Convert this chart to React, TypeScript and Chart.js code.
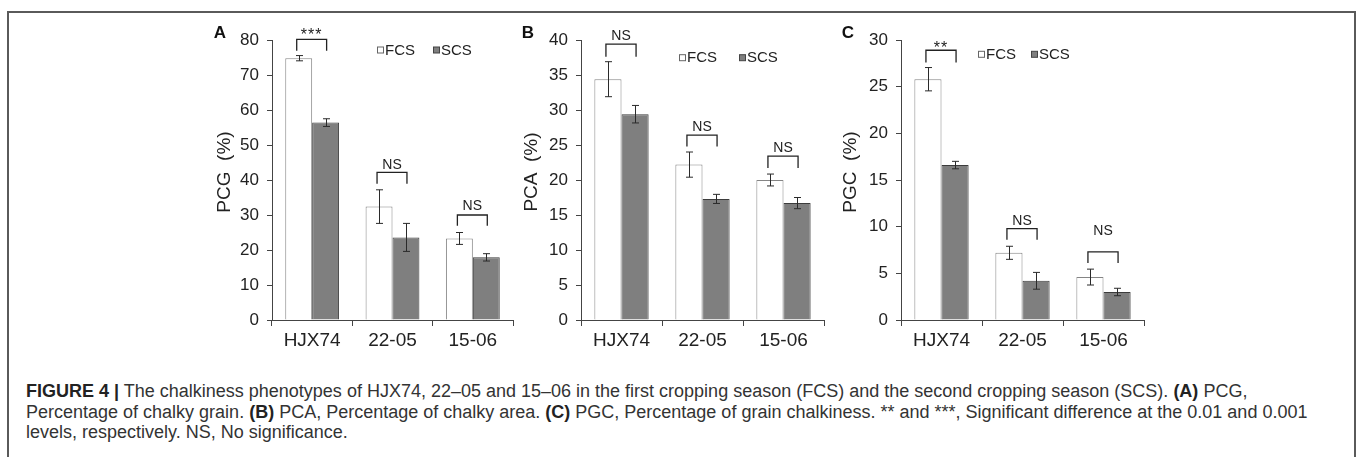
import React, { useEffect, useRef } from "react";
import { Chart, registerables } from "chart.js";
Chart.register(...registerables);

const FONT = "'Liberation Sans', Arial, Helvetica, sans-serif";

const categories = ["HJX74", "22-05", "15-06"];
const seriesNames = ["FCS", "SCS"];

// Panel A – PCG
const pcgFCS = [74.8, 32.4, 23.3];
const pcgFCSErr = [0.75, 4.8, 1.7];
const pcgSCS = [56.4, 23.6, 17.9];
const pcgSCSErr = [1.1, 4.0, 1.05];
const pcgSig = ["***", "NS", "NS"];
const pcgBracketTop = [80.2, 42.2, 30.0];
const pcgBracketLeg = [76.9, 38.9, 26.9];
const pcgSigY = [82.3, 44.3, 32.6];
const pcgAxis = [0, 80, 10];

// Panel B – PCA
const pcaFCS = [34.4, 22.2, 20.0];
const pcaFCSErr = [2.5, 1.8, 0.85];
const pcaSCS = [29.4, 17.3, 16.7];
const pcaSCSErr = [1.25, 0.65, 0.8];
const pcaSig = ["NS", "NS", "NS"];
const pcaBracketTop = [39.4, 26.4, 23.4];
const pcaBracketLeg = [37.6, 24.8, 21.7];
const pcaSigY = [40.5, 27.5, 24.5];
const pcaAxis = [0, 40, 5];

// Panel C – PGC
const pgcFCS = [25.8, 7.2, 4.6];
const pgcFCSErr = [1.25, 0.7, 0.85];
const pgcSCS = [16.6, 4.2, 3.0];
const pgcSCSErr = [0.4, 0.9, 0.4];
const pgcSig = ["**", "NS", "NS"];
const pgcBracketTop = [28.9, 9.8, 7.3];
const pgcBracketLeg = [27.6, 8.6, 6.1];
const pgcSigY = [29.5, 10.6, 9.5];
const pgcAxis = [0, 30, 5];

type Panel = {
  letter: string;
  title: string;
  fcs: number[]; fcsErr: number[];
  scs: number[]; scsErr: number[];
  sig: string[]; bTop: number[]; bLeg: number[]; sigY: number[];
  axis: number[];
  left: number; width: number; yw: number; padRight: number;
  letterX: number; titleX: number;
  legX: number; legY: number; legGap: number;
};

const panels: Panel[] = [
  {
    letter: "A", title: "PCG  (%)",
    fcs: pcgFCS, fcsErr: pcgFCSErr, scs: pcgSCS, scsErr: pcgSCSErr,
    sig: pcgSig, bTop: pcgBracketTop, bLeg: pcgBracketLeg, sigY: pcgSigY, axis: pcgAxis,
    left: 200, width: 320, yw: 72, padRight: 7,
    letterX: 20, titleX: 25, legX: 105, legY: 10, legGap: 56,
  },
  {
    letter: "B", title: "PCA  (%)",
    fcs: pcaFCS, fcsErr: pcaFCSErr, scs: pcaSCS, scsErr: pcaSCSErr,
    sig: pcaSig, bTop: pcaBracketTop, bLeg: pcaBracketLeg, sigY: pcaSigY, axis: pcaAxis,
    left: 505, width: 325, yw: 76, padRight: 6,
    letterX: 23, titleX: 27, legX: 98, legY: 17.7, legGap: 60,
  },
  {
    letter: "C", title: "PGC  (%)",
    fcs: pgcFCS, fcsErr: pgcFCSErr, scs: pgcSCS, scsErr: pgcSCSErr,
    sig: pgcSig, bTop: pgcBracketTop, bLeg: pgcBracketLeg, sigY: pgcSigY, axis: pgcAxis,
    left: 825, width: 325, yw: 76, padRight: 6,
    letterX: 23, titleX: 26, legX: 77, legY: 14.3, legGap: 53,
  },
];

const CANVAS_H = 360;

function annotPlugin(p: Panel) {
  return {
    id: "annot" + p.letter,
    afterDatasetsDraw(chart: any) {
      const ctx = chart.ctx;
      const y = chart.scales.y;
      const errs = [p.fcsErr, p.scsErr];
      const vals = [p.fcs, p.scs];
      ctx.save();
      // error bars
      ctx.strokeStyle = "#2a2a2a";
      ctx.lineWidth = 1;
      for (let i = 0; i < 2; i++) {
        const meta = chart.getDatasetMeta(i);
        meta.data.forEach((el: any, j: number) => {
          const x = Math.round(el.x) + 0.5;
          const hi = y.getPixelForValue(vals[i][j] + errs[i][j]);
          const lo = y.getPixelForValue(vals[i][j] - errs[i][j]);
          ctx.beginPath();
          ctx.moveTo(x, hi); ctx.lineTo(x, lo);
          ctx.moveTo(x - 3.5, hi); ctx.lineTo(x + 3.5, hi);
          ctx.moveTo(x - 3.5, lo); ctx.lineTo(x + 3.5, lo);
          ctx.stroke();
        });
      }
      // significance brackets
      const m0 = chart.getDatasetMeta(0);
      const m1 = chart.getDatasetMeta(1);
      ctx.strokeStyle = "#222";
      ctx.lineWidth = 1.3;
      ctx.fillStyle = "#222";
      ctx.textAlign = "center";
      for (let j = 0; j < categories.length; j++) {
        const x0 = m0.data[j].x - 2;
        const x1 = m1.data[j].x + 1;
        const yt = y.getPixelForValue(p.bTop[j]);
        const yl = y.getPixelForValue(p.bLeg[j]);
        ctx.beginPath();
        ctx.moveTo(x0, yl); ctx.lineTo(x0, yt); ctx.lineTo(x1, yt); ctx.lineTo(x1, yl);
        ctx.stroke();
        const ty = y.getPixelForValue(p.sigY[j]);
        const cx = (x0 + x1) / 2;
        if (p.sig[j].startsWith("*")) {
          ctx.font = `16px ${FONT}`;
          ctx.textBaseline = "middle";
          (ctx as any).letterSpacing = "1px";
          ctx.fillText(p.sig[j], cx, ty + 4);
          (ctx as any).letterSpacing = "0px";
        } else {
          ctx.font = `14px ${FONT}`;
          ctx.textBaseline = "middle";
          ctx.fillText(p.sig[j], cx, ty);
        }
      }
      ctx.restore();
    },
    afterDraw(chart: any) {
      const ctx = chart.ctx;
      const area = chart.chartArea;
      ctx.save();
      // panel letter
      ctx.fillStyle = "#111";
      ctx.font = `bold 17px ${FONT}`;
      ctx.textAlign = "center";
      ctx.textBaseline = "middle";
      ctx.fillText(p.letter, p.letterX, 33);
      // axis title
      ctx.translate(p.titleX, (area.top + area.bottom) / 2 - 8);
      ctx.rotate(-Math.PI / 2);
      ctx.font = `19px ${FONT}`;
      ctx.fillStyle = "#222";
      ctx.fillText(p.title, 0, 0);
      ctx.restore();
      // legend
      ctx.save();
      ctx.font = `15px ${FONT}`;
      ctx.textBaseline = "middle";
      ctx.textAlign = "left";
      const lx = area.left + p.legX;
      const ly = area.top + p.legY;
      const fills = ["#ffffff", "#7f7f7f"];
      const strokes = ["#666", "#444"];
      for (let i = 0; i < 2; i++) {
        const bx = lx + i * p.legGap;
        ctx.fillStyle = fills[i];
        ctx.fillRect(bx + 0.5, ly - 3, 6, 6);
        ctx.strokeStyle = strokes[i];
        ctx.lineWidth = 1;
        ctx.strokeRect(bx + 0.5, ly - 3, 6, 6);
        ctx.fillStyle = "#222";
        ctx.fillText(seriesNames[i], bx + 8, ly + 0.5);
      }
      ctx.restore();
    },
  };
}

function PanelChart({ p }: { p: Panel }) {
  const ref = useRef<HTMLCanvasElement | null>(null);
  useEffect(() => {
    if (!ref.current) return;
    const chart = new Chart(ref.current, {
      type: "bar",
      data: {
        labels: categories,
        datasets: [
          {
            label: seriesNames[0], data: p.fcs,
            backgroundColor: "#ffffff", borderColor: "#858585", borderWidth: 1,
            categoryPercentage: 0.67, barPercentage: 1,
          },
          {
            label: seriesNames[1], data: p.scs,
            backgroundColor: "#7f7f7f", borderColor: "#3c3c3c", borderWidth: 1,
            categoryPercentage: 0.67, barPercentage: 1,
          },
        ],
      },
      options: {
        responsive: false,
        animation: false,
        devicePixelRatio: 1,
        layout: { padding: { left: 0, top: 40, right: p.padRight, bottom: 0 } },
        plugins: { legend: { display: false }, tooltip: { enabled: false } },
        scales: {
          x: {
            ticks: { font: { family: FONT, size: 19 }, color: "#222", padding: 3 },
            grid: { display: true, drawOnChartArea: false, drawTicks: true, tickLength: 6, color: "#444", offset: true },
            border: { display: true, color: "#444", width: 1 },
            afterFit: (s: any) => { s.height = 40; },
          },
          y: {
            min: p.axis[0], max: p.axis[1],
            ticks: { stepSize: p.axis[2], font: { family: FONT, size: 17 }, color: "#222", padding: 8 },
            grid: { display: true, drawOnChartArea: false, drawTicks: true, tickLength: 5, color: "#444" },
            border: { display: true, color: "#444", width: 1 },
            afterFit: (s: any) => { s.width = p.yw; },
          },
        },
      } as any,
      plugins: [annotPlugin(p)],
    });
    return () => chart.destroy();
  }, [p]);
  return (
    <canvas
      ref={ref}
      width={p.width}
      height={CANVAS_H}
      style={{ position: "absolute", left: p.left, top: 0, width: p.width, height: CANVAS_H }}
    />
  );
}

export default function App() {
  return (
    <div style={{ position: "absolute", left: 0, top: 0, width: 1357, height: 457, overflow: "hidden", background: "#fff" }}>
      <div
        style={{
          position: "absolute", left: 7, top: 11, width: 1349, height: 470,
          border: "2px solid #5a5a5a", boxSizing: "border-box",
        }}
      />
      {panels.map((p) => (
        <PanelChart key={p.letter} p={p} />
      ))}
      <div
        style={{
          position: "absolute", left: 26, top: 381, whiteSpace: "nowrap",
          fontFamily: FONT, fontSize: 18, lineHeight: "20.5px", color: "#333",
        }}
      >
        <b style={{ color: "#222" }}>FIGURE 4 |</b> The chalkiness phenotypes of HJX74, 22–05 and 15–06 in the first cropping season (FCS) and the second cropping season (SCS). <b style={{ color: "#222" }}>(A)</b> PCG,
        <br />
        Percentage of chalky grain. <b style={{ color: "#222" }}>(B)</b> PCA, Percentage of chalky area. <b style={{ color: "#222" }}>(C)</b> PGC, Percentage of grain chalkiness. ** and ***, Significant difference at the 0.01 and 0.001
        <br />
        levels, respectively. NS, No significance.
      </div>
    </div>
  );
}
